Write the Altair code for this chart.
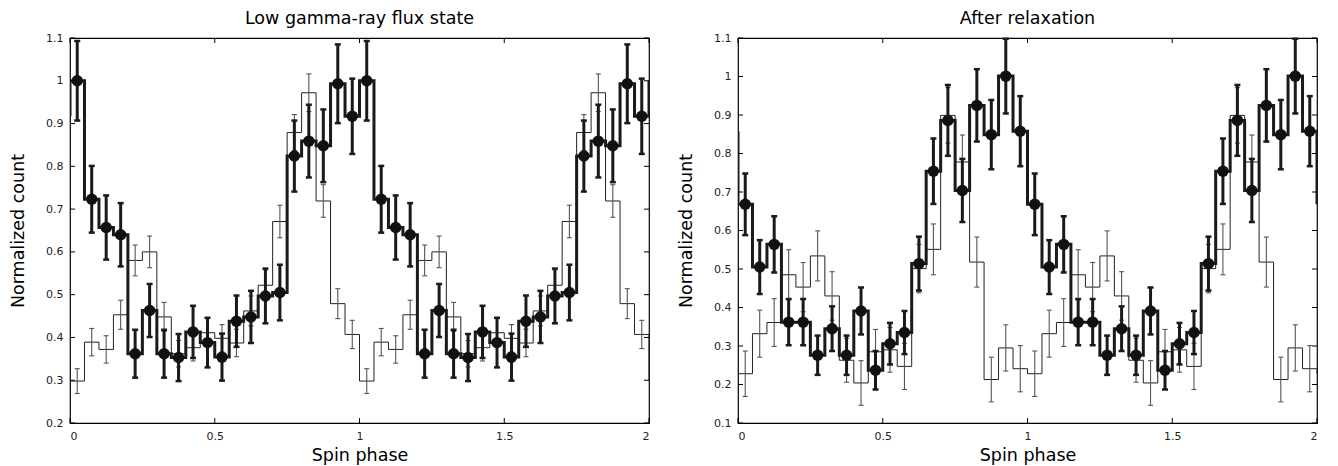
import altair as alt
import pandas as pd

# ---- data (one spin cycle, 20 phase bins of width 0.05; plotted twice) ----
BIN_W = 0.05
N_CYCLES = 2

low_thick = [1.000, 0.723, 0.657, 0.640, 0.362, 0.463, 0.362, 0.353, 0.413, 0.388,
             0.354, 0.438, 0.448, 0.497, 0.505, 0.824, 0.859, 0.848, 0.993, 0.917]
low_thick_err = [0.093, 0.078, 0.075, 0.074, 0.056, 0.062, 0.056, 0.055, 0.061, 0.058,
                 0.055, 0.060, 0.061, 0.064, 0.065, 0.083, 0.085, 0.085, 0.092, 0.088]
low_thin = [0.298, 0.389, 0.372, 0.453, 0.580, 0.600, 0.448, 0.362, 0.376, 0.411,
            0.398, 0.387, 0.462, 0.522, 0.671, 0.879, 0.972, 0.719, 0.479, 0.407]
low_thin_err = [0.029, 0.032, 0.032, 0.034, 0.036, 0.037, 0.034, 0.031, 0.031, 0.033,
                0.032, 0.032, 0.035, 0.036, 0.038, 0.042, 0.044, 0.038, 0.035, 0.033]

rel_thick = [0.668, 0.505, 0.564, 0.362, 0.362, 0.276, 0.345, 0.276, 0.391, 0.237,
             0.306, 0.335, 0.514, 0.754, 0.886, 0.704, 0.925, 0.849, 1.001, 0.858]
rel_thick_err = [0.080, 0.070, 0.073, 0.060, 0.060, 0.051, 0.058, 0.051, 0.061, 0.050,
                 0.054, 0.056, 0.070, 0.085, 0.092, 0.082, 0.094, 0.090, 0.097, 0.091]
rel_thin = [0.228, 0.332, 0.361, 0.485, 0.453, 0.534, 0.430, 0.263, 0.204, 0.285,
            0.290, 0.247, 0.501, 0.551, 0.899, 0.778, 0.518, 0.213, 0.295, 0.241]
rel_thin_err = [0.059, 0.061, 0.062, 0.065, 0.064, 0.065, 0.063, 0.057, 0.058, 0.058,
                0.058, 0.060, 0.063, 0.066, 0.072, 0.070, 0.065, 0.058, 0.060, 0.060]

x_ticks = [0, 0.5, 1, 1.5, 2]
low_y_ticks = [0.2, 0.3, 0.4, 0.5, 0.6, 0.7, 0.8, 0.9, 1.0, 1.1]
rel_y_ticks = [0.1, 0.2, 0.3, 0.4, 0.5, 0.6, 0.7, 0.8, 0.9, 1.0, 1.1]

FONT = "DejaVu Sans"
W, H = 579, 385
TICK = 5


def step_table(vals):
    v = vals * N_CYCLES
    n = len(v)
    rows = [(0.0, v[-1])]
    for i, val in enumerate(v):
        rows.append((round(i * BIN_W, 4), val))
        rows.append((round((i + 1) * BIN_W, 4), val))
    rows.append((round(n * BIN_W, 4), v[0]))
    return pd.DataFrame({"phase": [r[0] for r in rows],
                         "count": [r[1] for r in rows],
                         "order": list(range(len(rows)))})


def point_table(vals, errs):
    v = vals * N_CYCLES
    e = errs * N_CYCLES
    return pd.DataFrame({
        "phase": [round((i + 0.5) * BIN_W, 4) for i in range(len(v))],
        "count": v,
        "lo": [a - b for a, b in zip(v, e)],
        "hi": [a + b for a, b in zip(v, e)],
    })


def panel(title, thick, thick_err, thin, thin_err, ymin, yticks):
    xs = alt.Scale(domain=[0, 2], nice=False, zero=False)
    ys = alt.Scale(domain=[ymin, 1.1], nice=False, zero=False)
    x_axis = alt.Axis(values=x_ticks, format="~g", ticks=False, grid=False, domain=False,
                      labelPadding=7, titlePadding=5, title="Spin phase")
    y_axis = alt.Axis(values=yticks, format="~g", ticks=False, grid=False, domain=False,
                      labelPadding=7, titlePadding=18, title="Normalized count")

    def X(f):
        return alt.X(f, scale=xs, axis=x_axis, title="Spin phase")

    def Y(f):
        return alt.Y(f, scale=ys, axis=y_axis, title="Normalized count")

    thin_step = step_table(thin)
    thick_step = step_table(thick)
    thin_pts = point_table(thin, thin_err)
    thick_pts = point_table(thick, thick_err)

    l_thin = alt.Chart(thin_step).mark_line(color="#222222", strokeWidth=1, clip=True).encode(
        x=X("phase:Q"), y=Y("count:Q"), order="order:Q")
    thin_bar = alt.Chart(thin_pts).mark_rule(color="#555555", strokeWidth=1.1).encode(
        x=X("phase:Q"), y=Y("lo:Q"), y2="hi:Q")
    thin_cap_lo = alt.Chart(thin_pts).mark_tick(orient="horizontal", size=5, thickness=1.1,
                                                color="#555555", opacity=1).encode(
        x=X("phase:Q"), y=Y("lo:Q"))
    thin_cap_hi = alt.Chart(thin_pts).mark_tick(orient="horizontal", size=5, thickness=1.1,
                                                color="#555555", opacity=1).encode(
        x=X("phase:Q"), y=Y("hi:Q"))
    l_thick = alt.Chart(thick_step).mark_line(color="#1a1a1a", strokeWidth=3, clip=True).encode(
        x=X("phase:Q"), y=Y("count:Q"), order="order:Q")
    thick_bar = alt.Chart(thick_pts).mark_rule(color="#1a1a1a", strokeWidth=3).encode(
        x=X("phase:Q"), y=Y("lo:Q"), y2="hi:Q")
    thick_cap_lo = alt.Chart(thick_pts).mark_tick(orient="horizontal", size=6, thickness=2.5,
                                                  color="#1a1a1a", opacity=1).encode(
        x=X("phase:Q"), y=Y("lo:Q"))
    thick_cap_hi = alt.Chart(thick_pts).mark_tick(orient="horizontal", size=6, thickness=2.5,
                                                  color="#1a1a1a", opacity=1).encode(
        x=X("phase:Q"), y=Y("hi:Q"))
    dots = alt.Chart(thick_pts).mark_circle(size=130, color="#111111", opacity=1).encode(
        x=X("phase:Q"), y=Y("count:Q"))

    xt = pd.DataFrame({"t": x_ticks})
    yt = pd.DataFrame({"t": yticks})
    xb = alt.Chart(xt).mark_rule(color="black", strokeWidth=1).encode(
        x=X("t:Q"), y=alt.value(H), y2=alt.value(H - TICK))
    xtop = alt.Chart(xt).mark_rule(color="black", strokeWidth=1).encode(
        x=X("t:Q"), y=alt.value(0), y2=alt.value(TICK))
    yl = alt.Chart(yt).mark_rule(color="black", strokeWidth=1).encode(
        y=Y("t:Q"), x=alt.value(0), x2=alt.value(TICK))
    yr = alt.Chart(yt).mark_rule(color="black", strokeWidth=1).encode(
        y=Y("t:Q"), x=alt.value(W), x2=alt.value(W - TICK))

    return alt.layer(l_thin, thin_bar, thin_cap_lo, thin_cap_hi,
                     l_thick, thick_bar, thick_cap_lo, thick_cap_hi, dots,
                     xb, xtop, yl, yr).properties(
        width=W, height=H,
        title=alt.TitleParams(title, font=FONT, fontSize=17.5, fontWeight="normal",
                              color="black", offset=2, dy=-3))


left = panel("Low gamma-ray flux state", low_thick, low_thick_err, low_thin, low_thin_err,
             0.2, low_y_ticks)
right = panel("After relaxation", rel_thick, rel_thick_err, rel_thin, rel_thin_err,
              0.1, rel_y_ticks)

chart = alt.hconcat(left, right, spacing=25).properties(
    padding={"left": 0, "top": 0, "right": 5, "bottom": 0}
).configure_view(stroke="black", strokeWidth=1.2).configure_axis(
    labelFont=FONT, labelFontSize=11, labelColor="#222222",
    titleFont=FONT, titleFontSize=17.5, titleFontWeight="normal", titleColor="black"
)

chart.save("out.html", embed_options={"renderer": "svg", "actions": False})
